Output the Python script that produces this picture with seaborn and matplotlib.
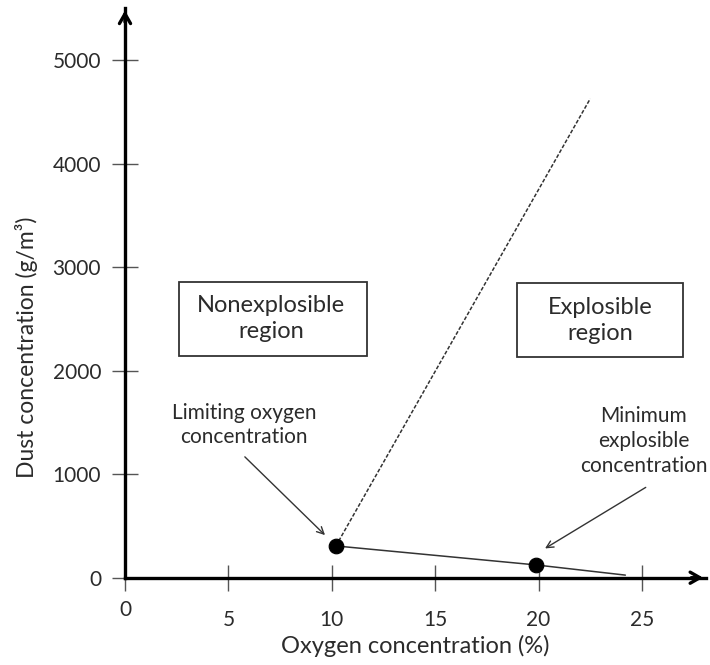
import numpy as np
import pandas as pd
import matplotlib
matplotlib.use('Agg')
import matplotlib.pyplot as plt
import matplotlib.transforms as mtransforms
from matplotlib.patches import Rectangle
import seaborn as sns

# values
limit_x = [10.2, 19.9, 24.2]          # oxygen %, solid boundary
limit_y = [307, 123, 25]              # dust g/m3
upper_x = [10.2, 22.5]                # dashed upper boundary
upper_y = [307, 4630]
point_x = [10.2, 19.9]                # marked points
point_y = [307, 123]

x_ticks = [0, 5, 10, 15, 20, 25]
y_ticks = [0, 1000, 2000, 3000, 4000, 5000]
x_max = 28.1
y_max = 5510

sns.set_style('white')
plt.rcParams['font.family'] = ['Lato', 'DejaVu Sans']

grey = '#2b2b2b'

fig = plt.figure(figsize=(7.1, 6.65), dpi=100)
ax = fig.add_axes([125 / 710, 87.3 / 665, 581 / 710, 570 / 665])

solid = pd.DataFrame({'x': limit_x, 'y': limit_y})
dashed = pd.DataFrame({'x': upper_x, 'y': upper_y})
pts = pd.DataFrame({'x': point_x, 'y': point_y})

sns.lineplot(data=solid, x='x', y='y', ax=ax, color='#333333', lw=1.1, sort=False, zorder=3)
sns.lineplot(data=dashed, x='x', y='y', ax=ax, color='#333333', lw=1.1, sort=False,
             linestyle=(0, (2.5, 1.2)), zorder=3)
sns.scatterplot(data=pts, x='x', y='y', ax=ax, color='black', s=110, edgecolor='black', zorder=4)

ax.set_xlim(0, x_max)
ax.set_ylim(0, y_max)
ax.set_xticks(x_ticks)
ax.set_yticks(y_ticks)

for s in ['top', 'right']:
    ax.spines[s].set_visible(False)
for s in ['left', 'bottom']:
    ax.spines[s].set_linewidth(2.4)
    ax.spines[s].set_color('black')

ax.tick_params(bottom=True, left=True, direction='inout', length=18.5, width=1.0,
               color='#555555', labelsize=15, labelcolor=grey)
ax.tick_params(axis='x', pad=14)
ax.tick_params(axis='y', pad=8)

# zero on the x axis sits a little higher
lab0 = ax.get_xticklabels()[0]
lab0.set_transform(lab0.get_transform() + mtransforms.ScaledTranslation(0, 10 / 100, fig.dpi_scale_trans))

# arrow heads on the axes
ax.annotate('', xy=(1.0, 0), xytext=(0.97, 0), xycoords='axes fraction',
            arrowprops=dict(arrowstyle='->,head_length=0.7,head_width=0.4', lw=2.4, color='black'),
            annotation_clip=False)
ax.annotate('', xy=(0, 1.0), xytext=(0, 0.97), xycoords='axes fraction',
            arrowprops=dict(arrowstyle='->,head_length=0.7,head_width=0.4', lw=2.4, color='black'),
            annotation_clip=False)

ax.set_xlabel('Oxygen concentration (%)', fontsize=17, color=grey)
ax.set_ylabel('Dust concentration (g/m³)', fontsize=16.5, color=grey)
ax.xaxis.set_label_coords(0.5, -0.1)
ax.yaxis.set_label_coords(-0.149, 0.405)

# region boxes
ax.add_patch(Rectangle((2.6, 2144), 9.1, 716, fill=False, ec='#333333', lw=1.3, zorder=2))
ax.text(7.05, 2502, 'Nonexplosible\nregion', ha='center', va='center', fontsize=17,
        color=grey, linespacing=1.3)
ax.add_patch(Rectangle((18.95, 2135), 8.05, 715, fill=False, ec='#333333', lw=1.3, zorder=2))
ax.text(23.0, 2487, 'Explosible\nregion', ha='center', va='center', fontsize=17,
        color=grey, linespacing=1.3)

# callouts
ax.text(5.75, 1476, 'Limiting oxygen\nconcentration', ha='center', va='center', fontsize=15,
        color=grey, linespacing=1.3)
ax.annotate('', xy=(9.77, 393), xytext=(5.7, 1187),
            arrowprops=dict(arrowstyle='->,head_length=0.5,head_width=0.25', lw=1.0, color='#333333'))
ax.text(25.1, 1322, 'Minimum\nexplosible\nconcentration', ha='center', va='center', fontsize=15,
        color=grey, linespacing=1.3)
ax.annotate('', xy=(20.2, 269), xytext=(25.3, 887),
            arrowprops=dict(arrowstyle='->,head_length=0.5,head_width=0.25', lw=1.0, color='#333333'),
            annotation_clip=False)

fig.savefig('out.png', dpi=100)
